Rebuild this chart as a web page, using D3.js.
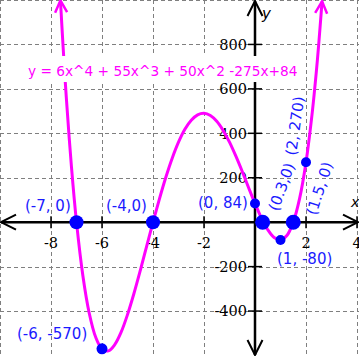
<!DOCTYPE html>
<html><head><meta charset="utf-8">
<script src="https://cdn.jsdelivr.net/npm/d3@7"></script>
<style>html,body{margin:0;padding:0;background:#fff;overflow:hidden}</style>
</head><body>
<svg id="chart" width="359" height="356"></svg>
<script>
// ---- data ----
const curveX = [-7.63,-7.5,-7.4,-7.2,-7,-6.75,-6.5,-6.25,-6,-5.75,-5.5,-5.25,-5,-4.75,-4.5,-4.25,-4,-3.75,-3.5,-3.25,-3,-2.75,-2.5,-2.25,-2,-1.75,-1.5,-1.25,-1,-0.75,-0.5,-0.25,0,0.25,0.5,0.75,1,1.25,1.5,1.75,2,2.25,2.4,2.5,2.63];
const curveY = [998,740,562,252,0,-241,-410,-517,-570,-579,-551,-495,-416,-322,-218,-109,0,104,201,287,360,418,459,483,490,480,454,413,360,297,228,155,84,19,-34,-69,-80,-60,0,107,270,499,671,803,994];
const pointX = [-7,-4,0,0.3,1.5,1,2,-6];
const pointY = [0,0,84,0,0,-80,270,-570];
const pointLabels = ["(-7, 0)","(-4,0)","(0, 84)","(0.3,0)","(1.5, 0)","(1, -80)","(2, 270)","(-6, -570)"];
const xTickValues = [-8,-6,-4,-2,2,4];
const yTickValues = [-400,-200,200,400,600,800];
const xGridValues = [-10,-8,-6,-4,-2,0,2,4];
const yGridValues = [-600,-400,-200,0,200,400,600,800,1000];
const titleText = "y = 6x^4 + 55x^3 + 50x^2 -275x+84";

// ---- layout ----
const W = 359, H = 356;
const x = d3.scaleLinear().domain([-10, 4]).range([0, 357]);
const y = d3.scaleLinear().domain([-600, 1000]).range([355.5, 0]);
const dotRadius = [7,7,5,7.5,7.5,5,5,5.5];
const labelLayout = [
  {x:25, y:211, rot:0}, {x:106, y:211, rot:0}, {x:198, y:208, rot:0},
  {x:278, y:212, rot:-70}, {x:316, y:216, rot:-72}, {x:277, y:264, rot:0},
  {x:296, y:156, rot:-82}, {x:17, y:339, rot:0}
];

const svg = d3.select("#chart");
svg.append("rect").attr("width", W).attr("height", H).attr("fill", "#fff");

const defs = svg.append("defs");
defs.append("marker").attr("id","curveArrow").attr("markerUnits","userSpaceOnUse")
  .attr("viewBox","-14 -8 16 16").attr("refX",0).attr("refY",0)
  .attr("markerWidth",16).attr("markerHeight",16).attr("orient","auto-start-reverse")
  .append("path").attr("d","M-12,-6L0,0L-12,6").attr("fill","none")
  .attr("stroke","#ff00ff").attr("stroke-width",2.5);
defs.append("marker").attr("id","axisArrow").attr("markerUnits","userSpaceOnUse")
  .attr("viewBox","-16 -9 18 18").attr("refX",0).attr("refY",0)
  .attr("markerWidth",18).attr("markerHeight",18).attr("orient","auto-start-reverse")
  .append("path").attr("d","M-15,-7.5L0,0L-15,7.5").attr("fill","none")
  .attr("stroke","#000").attr("stroke-width",2);

// grid
const grid = svg.append("g").attr("stroke","#7f7f7f").attr("stroke-width",1).attr("stroke-dasharray","4,3");
grid.selectAll("line.v").data(xGridValues).join("line").attr("class","v")
  .attr("x1", d => Math.round(x(d))+0.5).attr("x2", d => Math.round(x(d))+0.5)
  .attr("y1", 0).attr("y2", H);
grid.selectAll("line.h").data(yGridValues).join("line").attr("class","h")
  .attr("y1", d => Math.round(y(d))+0.5).attr("y2", d => Math.round(y(d))+0.5)
  .attr("x1", 0).attr("x2", W);

// axes
const x0 = x(0), y0 = y(0);
svg.append("line").attr("x1",1).attr("x2",W-1).attr("y1",y0).attr("y2",y0)
  .attr("stroke","#000").attr("stroke-width",2.5)
  .attr("marker-start","url(#axisArrow)").attr("marker-end","url(#axisArrow)");
svg.append("line").attr("x1",x0).attr("x2",x0).attr("y1",1).attr("y2",H-1)
  .attr("stroke","#000").attr("stroke-width",2.5)
  .attr("marker-start","url(#axisArrow)").attr("marker-end","url(#axisArrow)");

// x ticks
const xt = svg.append("g");
xt.selectAll("line").data(xTickValues).join("line")
  .attr("x1", d => x(d)).attr("x2", d => x(d)).attr("y1", y0-6).attr("y2", y0+6)
  .attr("stroke","#000").attr("stroke-width",1.5);
xt.selectAll("text").data(xTickValues).join("text")
  .attr("x", d => x(d)).attr("y", y0+26).attr("text-anchor","middle")
  .attr("font-family","DejaVu Serif").attr("font-size",14.5).attr("fill","#000")
  .text(d => d);
// y ticks
const yt = svg.append("g");
yt.selectAll("line").data(yTickValues).join("line")
  .attr("y1", d => y(d)).attr("y2", d => y(d)).attr("x1", x0-7).attr("x2", x0+7)
  .attr("stroke","#000").attr("stroke-width",1.5);
yt.selectAll("text").data(yTickValues).join("text")
  .attr("x", x0-8).attr("y", d => y(d)).attr("dy","0.36em").attr("text-anchor","end")
  .attr("font-family","DejaVu Serif").attr("font-size",14.5).attr("fill","#000")
  .text(d => d);

// axis names
svg.append("text").attr("x",262).attr("y",19).attr("font-family","DejaVu Sans")
  .attr("font-style","italic").attr("font-size",15).text("y");
svg.append("text").attr("x",351).attr("y",207).attr("font-family","DejaVu Sans")
  .attr("font-style","italic").attr("font-size",14).text("x");

// curve
const curvePts = curveX.map((d,i) => [d, curveY[i]]);
const line = d3.line().x(d => x(d[0])).y(d => y(d[1])).curve(d3.curveCatmullRom.alpha(0.5));
svg.append("path").datum(curvePts).attr("d", line).attr("fill","none")
  .attr("stroke","#ff00ff").attr("stroke-width",3)
  .attr("marker-start","url(#curveArrow)").attr("marker-end","url(#curveArrow)");

// title with white background
const title = svg.append("text").attr("x",28).attr("y",76)
  .attr("font-family","DejaVu Sans").attr("font-size",13.7).attr("fill","#ff00ff").text(titleText);
const bb = title.node().getBBox();
svg.insert("rect", () => title.node())
  .attr("x", bb.x-2).attr("y", 56).attr("width", bb.width+4).attr("height", 26).attr("fill","#fff");

// points
svg.selectAll("circle.pt").data(pointX).join("circle").attr("class","pt")
  .attr("cx", d => x(d)).attr("cy", (d,i) => y(pointY[i])).attr("r", (d,i) => dotRadius[i])
  .attr("fill","#0000ff");

// point labels
svg.selectAll("text.lbl").data(pointLabels).join("text").attr("class","lbl")
  .attr("transform", (d,i) => `translate(${labelLayout[i].x},${labelLayout[i].y}) rotate(${labelLayout[i].rot})`)
  .attr("font-family","DejaVu Sans").attr("font-size",15).attr("fill","#1a1aff")
  .text(d => d);
</script>
</body></html>
